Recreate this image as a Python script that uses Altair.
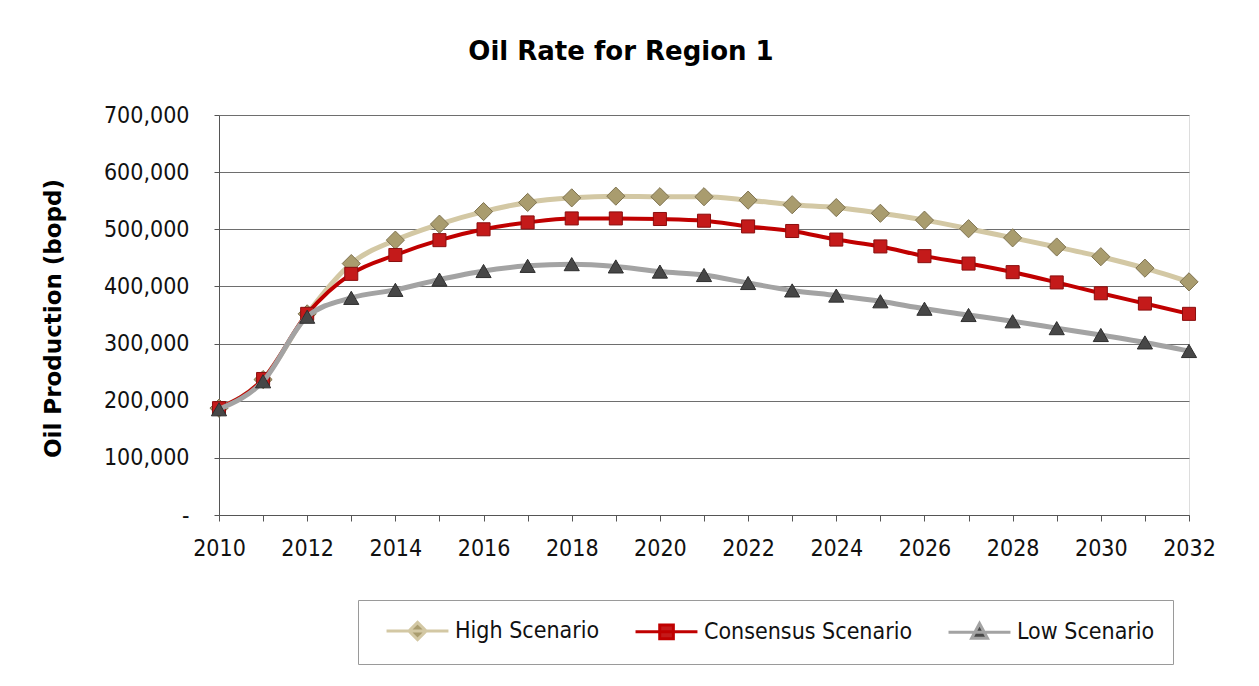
import altair as alt
import pandas as pd

# ---- data ----
years = list(range(2010, 2033))
high = [187000, 237000, 352000, 440000, 481000, 509000, 531000, 547000, 555000, 558000,
        557000, 557000, 551000, 543000, 538000, 528000, 516000, 501000, 485000, 469000,
        452000, 432000, 408000]
consensus = [187000, 238000, 352000, 422000, 455000, 481000, 500000, 512000, 519000, 519000,
             518000, 515000, 505000, 497000, 482000, 470000, 453000, 440000, 425000, 407000,
             388000, 370000, 352000]
low = [185000, 234000, 347000, 380000, 394000, 412000, 427000, 436000, 439000, 435000,
       426000, 420000, 406000, 393000, 384000, 374000, 361000, 350000, 339000, 327000,
       315000, 302000, 287000]
series_names = ["High Scenario", "Consensus Scenario", "Low Scenario"]
y_ticks = [0, 100000, 200000, 300000, 400000, 500000, 600000, 700000]
x_ticks = years

rows = []
for name, vals in zip(series_names, [high, consensus, low]):
    for yr, v in zip(years, vals):
        rows.append({"year": yr, "value": v, "series": name})
df = pd.DataFrame(rows)

# ---- styles ----
LABEL_FONT = "DejaVu Sans Condensed, Liberation Sans, DejaVu Sans"
BOLD_FONT = "DejaVu Sans"
line_colors = ["#D3C8A4", "#C00000", "#A3A3A3"]
line_widths = [5, 4, 5]
marker_shapes = ["diamond", "square", "triangle-up"]
marker_fills = ["#A99C6E", "#C41A1A", "#474747"]
marker_strokes = ["#7F7350", "#8A0E0E", "#2E2E2E"]
marker_sizes = [330, 170, 230]
# legend symbols: a line with the series marker on it (units of half the nominal symbol size)
legend_paths = [
    "M-0.18,0H5.45M2.64,-0.78L3.42,0L2.64,0.78L1.86,0Z",
    "M-0.18,0H5.45M2.02,-0.62H3.26V0.62H2.02Z",
    "M-0.18,0H5.45M2.64,-0.8L3.36,0.55H1.92Z",
]

x_enc = alt.X(
    "year:Q",
    scale=alt.Scale(domain=[2010, 2032], nice=False, zero=False),
    axis=alt.Axis(
        values=x_ticks,
        labelExpr="datum.value % 2 == 0 ? '' + datum.value : ''",
        labelFlush=False,
        labelOverlap=False,
        title=None,
        grid=False,
        tickSize=6,
        labelPadding=16,
        labelFont=LABEL_FONT,
        labelFontSize=23,
        labelColor="#111111",
        domainColor="#555555",
        tickColor="#555555",
    ),
)
y_enc = alt.Y(
    "value:Q",
    scale=alt.Scale(domain=[0, 700000], nice=False, zero=True),
    axis=alt.Axis(
        values=y_ticks,
        format=",.0f",
        labelExpr="datum.value == 0 ? '-' : datum.label",
        labelFlush=False,
        labelOverlap=False,
        title="Oil Production (bopd)",
        titleFont=BOLD_FONT,
        titleFontSize=23,
        titleFontWeight="bold",
        titleColor="#000000",
        titleAngle=270,
        titleX=-166,
        titleY=203,
        titleAlign="center",
        titleBaseline="middle",
        grid=True,
        gridColor="#6e6e6e",
        gridWidth=1,
        tickSize=5,
        labelPadding=25,
        labelFont=LABEL_FONT,
        labelFontSize=23,
        labelColor="#111111",
        domainColor="#555555",
        tickColor="#555555",
    ),
)

base = alt.Chart(df).encode(x=x_enc, y=y_enc)

layers = []
for i, name in enumerate(series_names):
    sub = base.transform_filter(alt.datum.series == name)
    layers.append(
        sub.mark_line(color=line_colors[i], strokeWidth=line_widths[i], interpolate="monotone")
    )
    layers.append(
        sub.mark_point(
            shape=marker_shapes[i], filled=True, fill=marker_fills[i],
            stroke=marker_strokes[i], strokeWidth=1, size=marker_sizes[i], opacity=1,
        )
    )

leg = alt.Legend(
    title=None,
    orient="none",
    legendX=139,
    legendY=485,
    direction="horizontal",
    columns=3,
    symbolSize=484,
    symbolStrokeWidth=3,
    symbolOpacity=1,
    labelFont=LABEL_FONT,
    labelFontSize=23,
    labelColor="#111111",
    labelOffset=54,
    labelLimit=400,
    columnPadding=25,
    padding=18,
    strokeColor="#9a9a9a",
    fillColor="white",
)

legend_layer = base.transform_filter("false").mark_point(filled=True, opacity=1).encode(
    shape=alt.Shape("series:N", scale=alt.Scale(domain=series_names, range=legend_paths), legend=leg),
    fill=alt.Fill("series:N", scale=alt.Scale(domain=series_names, range=marker_fills), legend=leg),
    stroke=alt.Stroke("series:N", scale=alt.Scale(domain=series_names, range=line_colors), legend=leg),
)
layers.append(legend_layer)

chart = (
    alt.layer(*layers)
    .properties(
        width=970,
        height=400,
        title=alt.TitleParams(
            "Oil Rate for Region 1",
            font=BOLD_FONT,
            fontSize=26,
            fontWeight="bold",
            color="#000000",
            anchor="middle",
            dx=-83,
            offset=18,
            baseline="alphabetic",
        ),
        autosize=alt.AutoSizeParams(type="none"),
        padding={"left": 211, "top": 107, "right": 58, "bottom": 160},
    )
    .configure_view(stroke="transparent")
    .configure(background="white")
)

chart.save("out.html", embed_options={"renderer": "svg", "actions": False})
